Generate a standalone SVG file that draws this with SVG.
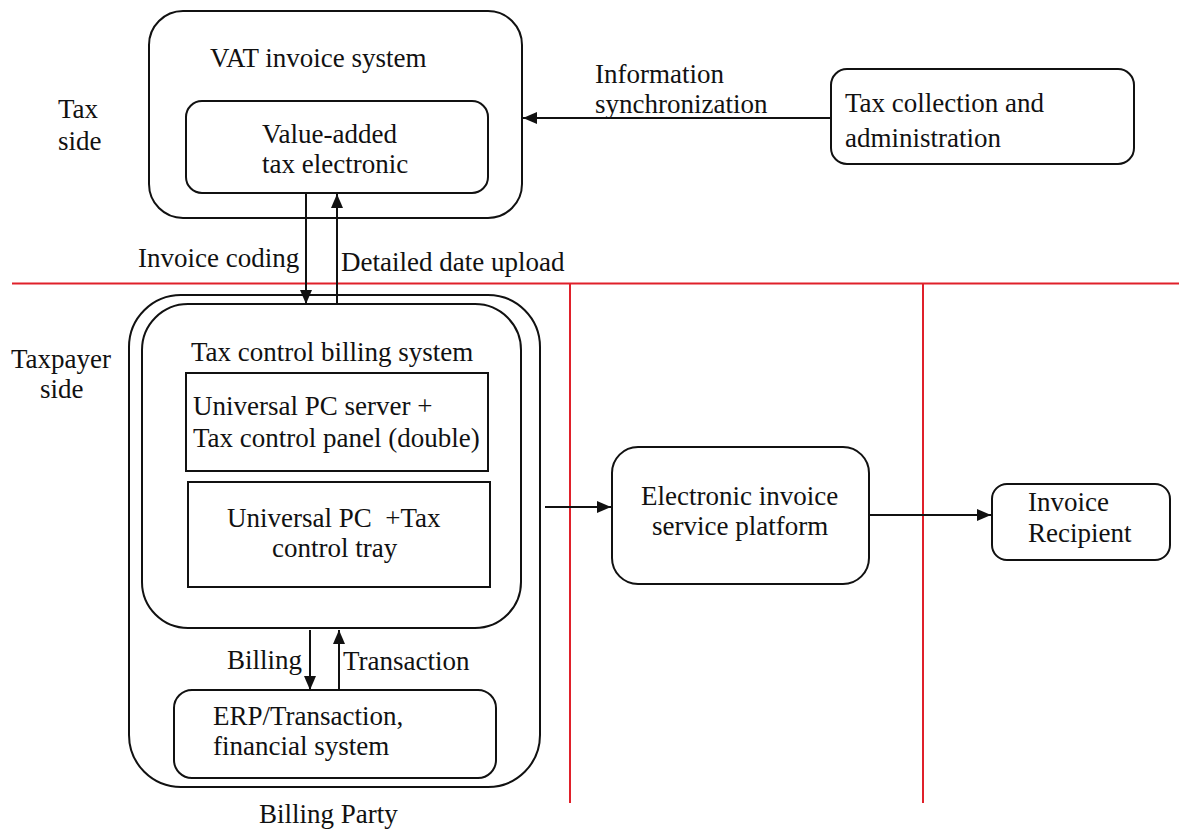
<svg xmlns="http://www.w3.org/2000/svg" width="1179" height="830" viewBox="0 0 1179 830">
<style>
text{font-family:'Liberation Serif','Times New Roman','DejaVu Serif',serif;font-size:27px;fill:#111}
.box{fill:none;stroke:#111;stroke-width:2}
.red{stroke:#e0202a;stroke-width:2;fill:none}
.con{stroke:#111;stroke-width:2;fill:none}
</style>
<defs>
<marker id="ah" viewBox="0 0 14 12" refX="14" refY="6" markerWidth="14" markerHeight="12" markerUnits="userSpaceOnUse" orient="auto">
<path d="M0,0 L14,6 L0,12 z" fill="#111"/>
</marker>
</defs>
<rect width="1179" height="830" fill="#fff"/>
<g font-family="Liberation Serif, Times New Roman, DejaVu Serif, serif">
<g id="lanes">
<line class="red" x1="12" y1="283.5" x2="1179" y2="283.5"/>
<line class="red" x1="570" y1="283.5" x2="570" y2="803"/>
<line class="red" x1="923" y1="283.5" x2="923" y2="803"/>
<text x="58" y="118">Tax</text>
<text x="58" y="150">side</text>
<text x="11" y="368">Taxpayer</text>
<text x="40" y="398">side</text>
</g>
<g id="vat">
<rect class="box" x="149" y="11" width="373" height="207" rx="34"/>
<text x="210" y="67">VAT invoice system</text>
</g>
<g id="vatE">
<rect class="box" x="186" y="101" width="302" height="92" rx="16"/>
<text x="262" y="143">Value-added</text>
<text x="262" y="173">tax electronic</text>
</g>
<g id="taxadmin">
<rect class="box" x="831" y="69" width="303" height="95" rx="16"/>
<text x="845" y="112">Tax collection and</text>
<text x="845" y="147">administration</text>
</g>
<g id="billingParty">
<rect class="box" x="129" y="295" width="411" height="492" rx="52"/>
<text x="259" y="823">Billing Party</text>
</g>
<g id="taxControl">
<rect class="box" x="142" y="304" width="379" height="324" rx="46"/>
<text x="191" y="361">Tax control billing system</text>
</g>
<g id="server">
<rect class="box" x="186" y="373" width="302" height="98"/>
<text x="193" y="415">Universal PC server +</text>
<text x="193" y="447">Tax control panel (double)</text>
</g>
<g id="tray">
<rect class="box" x="188" y="482" width="302" height="105"/>
<text x="227" y="527" xml:space="preserve">Universal PC  +Tax</text>
<text x="272" y="557">control tray</text>
</g>
<g id="erp">
<rect class="box" x="174" y="690" width="322" height="88" rx="18"/>
<text x="213" y="725">ERP/Transaction,</text>
<text x="213" y="755">financial system</text>
</g>
<g id="platform">
<rect class="box" x="612" y="447" width="257" height="137" rx="26"/>
<text x="641" y="505">Electronic invoice</text>
<text x="652" y="535">service platform</text>
</g>
<g id="recipient">
<rect class="box" x="992" y="484" width="178" height="76" rx="15"/>
<text x="1028" y="511">Invoice</text>
<text x="1028" y="542">Recipient</text>
</g>
<g id="connectors">
<line class="con" x1="306" y1="194" x2="306" y2="304" marker-end="url(#ah)"/>
<line class="con" x1="337" y1="304" x2="337" y2="194" marker-end="url(#ah)"/>
<line class="con" x1="830" y1="118" x2="523" y2="118" marker-end="url(#ah)"/>
<line class="con" x1="545" y1="507" x2="611" y2="507" marker-end="url(#ah)"/>
<line class="con" x1="870" y1="515" x2="991" y2="515" marker-end="url(#ah)"/>
<line class="con" x1="310" y1="630" x2="310" y2="690" marker-end="url(#ah)"/>
<line class="con" x1="339" y1="690" x2="339" y2="630" marker-end="url(#ah)"/>
<text x="138" y="267">Invoice coding</text>
<text x="341" y="271">Detailed date upload</text>
<text x="595" y="83">Information</text>
<text x="595" y="113">synchronization</text>
<text x="227" y="669">Billing</text>
<text x="343" y="670">Transaction</text>
</g>
</g>
</svg>
